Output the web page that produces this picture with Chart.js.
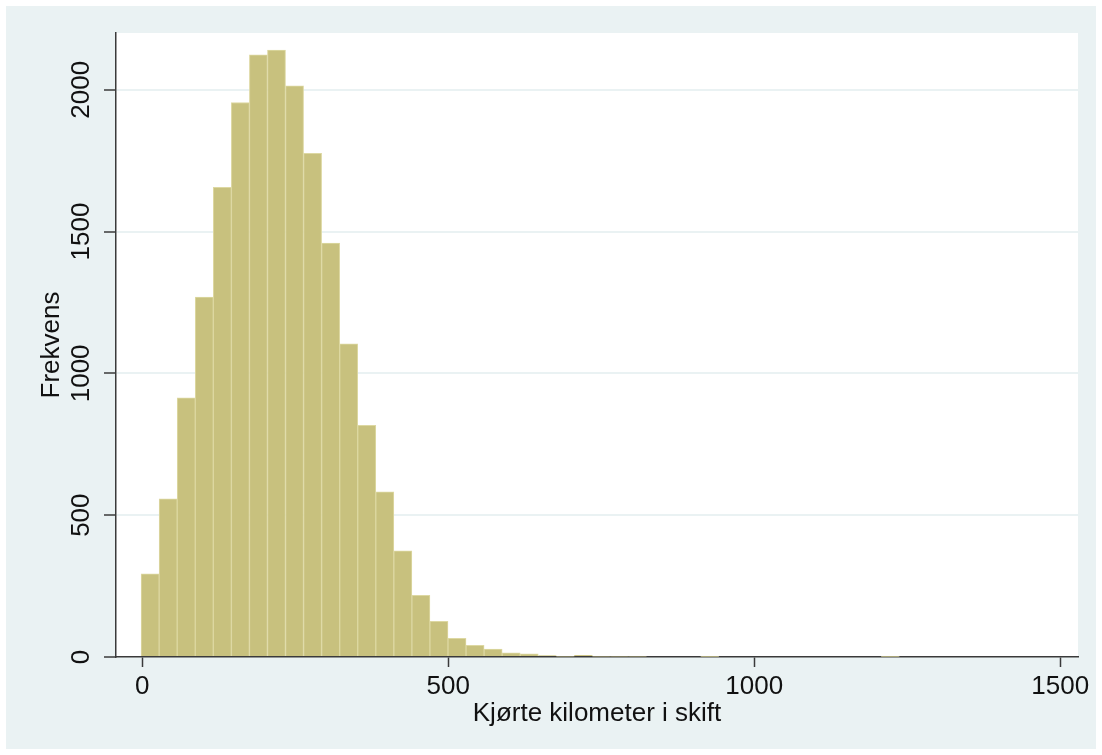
<!DOCTYPE html>
<html>
<head>
<meta charset="utf-8">
<script src="https://cdn.jsdelivr.net/npm/chart.js@4.4.1/dist/chart.umd.min.js"></script>
<style>
  html, body { margin: 0; padding: 0; background: #fff; }
</style>
</head>
<body>
<canvas id="myChart" width="1102" height="755"></canvas>
<script>
// histogram bins (km)
const binStart = -2
const binWidth = 29.5
const frekvens = [
  293, 558, 914, 1269, 1656, 1955, 2123, 2140, 2014, 1776,
  1459, 1104, 817, 582, 374, 217, 126, 66, 41, 28,
  15, 11, 5, 3, 6, 3, 3, 3, 0, 0,
  0, 2, 0, 0, 0, 0, 0, 0, 0, 0,
  0, 2
]
const xTicks = [0, 500, 1000, 1500]
const yTicks = [0, 500, 1000, 1500, 2000]
const xTitle = 'Kjørte kilometer i skift'
const yTitle = 'Frekvens'

const bgColor = '#eaf2f3'
const axisColor = '#3a3a3a'
const fontFamily = "'Liberation Sans', Arial, Helvetica, sans-serif"

const points = frekvens.map((f, i) => ({ x: binStart + binWidth * (i + 0.5), y: f }))

const background = {
  id: 'background',
  beforeDraw(chart) {
    const { ctx, chartArea } = chart
    ctx.save()
    ctx.fillStyle = '#ffffff'
    ctx.fillRect(0, 0, chart.width, chart.height)
    ctx.fillStyle = bgColor
    ctx.fillRect(6, 6, chart.width - 12, chart.height - 12)
    ctx.fillStyle = '#ffffff'
    ctx.fillRect(chartArea.left, chartArea.top, chartArea.right - chartArea.left, chartArea.bottom - chartArea.top)
    ctx.restore()
  }
}

const config = {
  type: 'bar',
  data: {
    datasets: [{
      data: points,
      backgroundColor: 'rgb(200, 193, 126)',
      borderColor: 'rgb(221, 216, 162)',
      borderWidth: 1,
      borderSkipped: 'bottom',
      barPercentage: 1,
      categoryPercentage: 1,
      grouped: false,
    }]
  },
  options: {
    responsive: false,
    animation: false,
    layout: { padding: { left: 0, top: 33, right: 24, bottom: 0 } },
    plugins: { legend: { display: false }, tooltip: { enabled: false } },
    scales: {
      x: {
        type: 'linear',
        min: -43,
        max: 1529,
        offset: false,
        afterBuildTicks: (scale) => { scale.ticks = xTicks.map(v => ({ value: v })) },
        afterFit: (scale) => { scale.height = 98 },
        grid: { offset: false, drawOnChartArea: false, drawTicks: true, tickLength: 10, tickColor: axisColor, tickWidth: 1.5 },
        border: { display: true, color: axisColor, width: 1.5 },
        ticks: { color: '#111', padding: 4, maxRotation: 0, callback: (v) => String(v), font: { family: fontFamily, size: 26 } },
        title: { display: true, text: xTitle, color: '#111', padding: { top: 0, bottom: 26 }, font: { family: fontFamily, size: 26 } },
      },
      y: {
        min: 0,
        max: 2200,
        afterBuildTicks: (scale) => { scale.ticks = yTicks.map(v => ({ value: v })) },
        afterFit: (scale) => { scale.width = 116 },
        grid: {
          color: (c) => (c.tick && c.tick.value === 0 ? 'rgba(0,0,0,0)' : bgColor),
          lineWidth: 2,
          drawTicks: true,
          tickLength: 12,
          tickColor: axisColor,
          tickWidth: 1.5,
        },
        border: { display: true, color: axisColor, width: 1.5 },
        ticks: { color: '#111', padding: -7, minRotation: 90, maxRotation: 90, crossAlign: 'center', callback: (v) => String(v), font: { family: fontFamily, size: 26 } },
        title: { display: true, text: yTitle, color: '#111', padding: { top: 36, bottom: 0 }, font: { family: fontFamily, size: 26 } },
      }
    }
  },
  plugins: [background]
}

new Chart(document.getElementById('myChart'), config)
</script>
</body>
</html>
